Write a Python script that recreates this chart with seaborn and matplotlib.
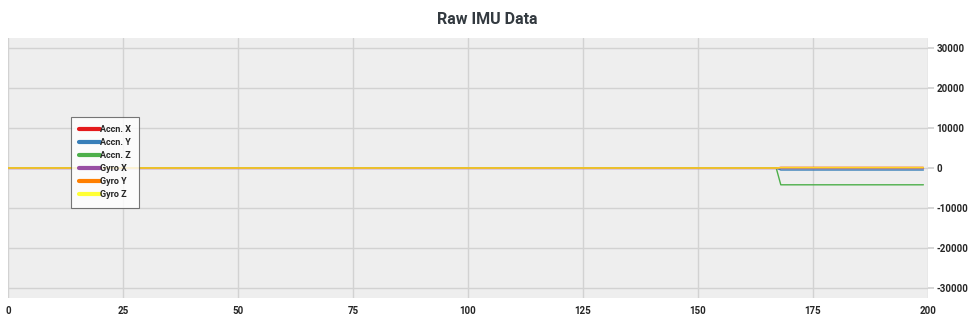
import matplotlib
matplotlib.use("Agg")
import matplotlib.pyplot as plt
import seaborn as sns
import pandas as pd
from matplotlib.lines import Line2D

# sample index breakpoints (values are flat between them)
sample = [0, 167, 168, 199]
accn_x = [0, 0, 100, 100]
accn_y = [0, 0, -500, -500]
accn_z = [0, 0, -4200, -4200]
gyro_x = [0, 0, 0, 0]
gyro_y = [0, 0, 150, 150]
gyro_z = [0, 0, 50, 50]

series_names = ["Accn. X", "Accn. Y", "Accn. Z", "Gyro X", "Gyro Y", "Gyro Z"]
series_vals = [accn_x, accn_y, accn_z, gyro_x, gyro_y, gyro_z]
colors = ["#e41a1c", "#377eb8", "#4daf4a", "#984ea3", "#ff7f00", "#ffff33"]

x_ticks = [0, 25, 50, 75, 100, 125, 150, 175, 200]
y_ticks = [-30000, -20000, -10000, 0, 10000, 20000, 30000]

rows = []
for name, vals in zip(series_names, series_vals):
    for s, v in zip(sample, vals):
        rows.append({"sample": s, "value": v, "series": name})
df = pd.DataFrame(rows)

sns.set_theme(style="white")
plt.rcParams["font.family"] = ["Roboto", "DejaVu Sans"]

fig = plt.figure(figsize=(9.74, 3.36), dpi=100)
ax = fig.add_axes([8/974, 1 - 298/336, 920/974, 260/336])
ax.set_facecolor("#eeeeee")

sns.lineplot(data=df, x="sample", y="value", hue="series", hue_order=series_names,
             palette=colors, linewidth=1.0, ax=ax, legend=False, sort=False)
lines = ax.get_lines()
if len(lines) == 6:
    lines[5].set_alpha(0.75)

ax.set_xlim(0, 200)
ax.set_ylim(-32500, 32500)
ax.set_xticks(x_ticks)
ax.set_yticks(y_ticks)
ax.set_xticklabels([str(t) for t in x_ticks])
ax.set_yticklabels([str(t) for t in y_ticks])
ax.yaxis.tick_right()
ax.grid(True, color="#d2d2d2", linewidth=1)
ax.set_axisbelow(True)
for sp in ax.spines.values():
    sp.set_visible(False)
ax.tick_params(axis="both", length=4, color="#d2d2d2", labelsize=7, pad=2)
for lbl in ax.get_xticklabels() + ax.get_yticklabels():
    lbl.set_fontweight("bold")
ax.set_xlabel("")
ax.set_ylabel("")

handles = [Line2D([0], [0], color=c, lw=3) for c in colors]
leg = ax.legend(handles, series_names, loc="upper left", bbox_to_anchor=(63/920, 1 - 79/260),
                frameon=True, fancybox=False, handlelength=2.3, handletextpad=0.0,
                labelspacing=0.45, borderpad=0.9, borderaxespad=0,
                prop={"family": "Roboto", "size": 6.5, "weight": "bold"})
leg.get_frame().set_edgecolor("#555555")
leg.get_frame().set_linewidth(0.8)
leg.get_frame().set_facecolor("white")

fig.text(0.5, 1 - 19/336, "Raw IMU Data", ha="center", va="center",
         fontsize=11.5, fontweight="bold", color="#333a40", family="Roboto")

fig.savefig("out.png", dpi=100)
